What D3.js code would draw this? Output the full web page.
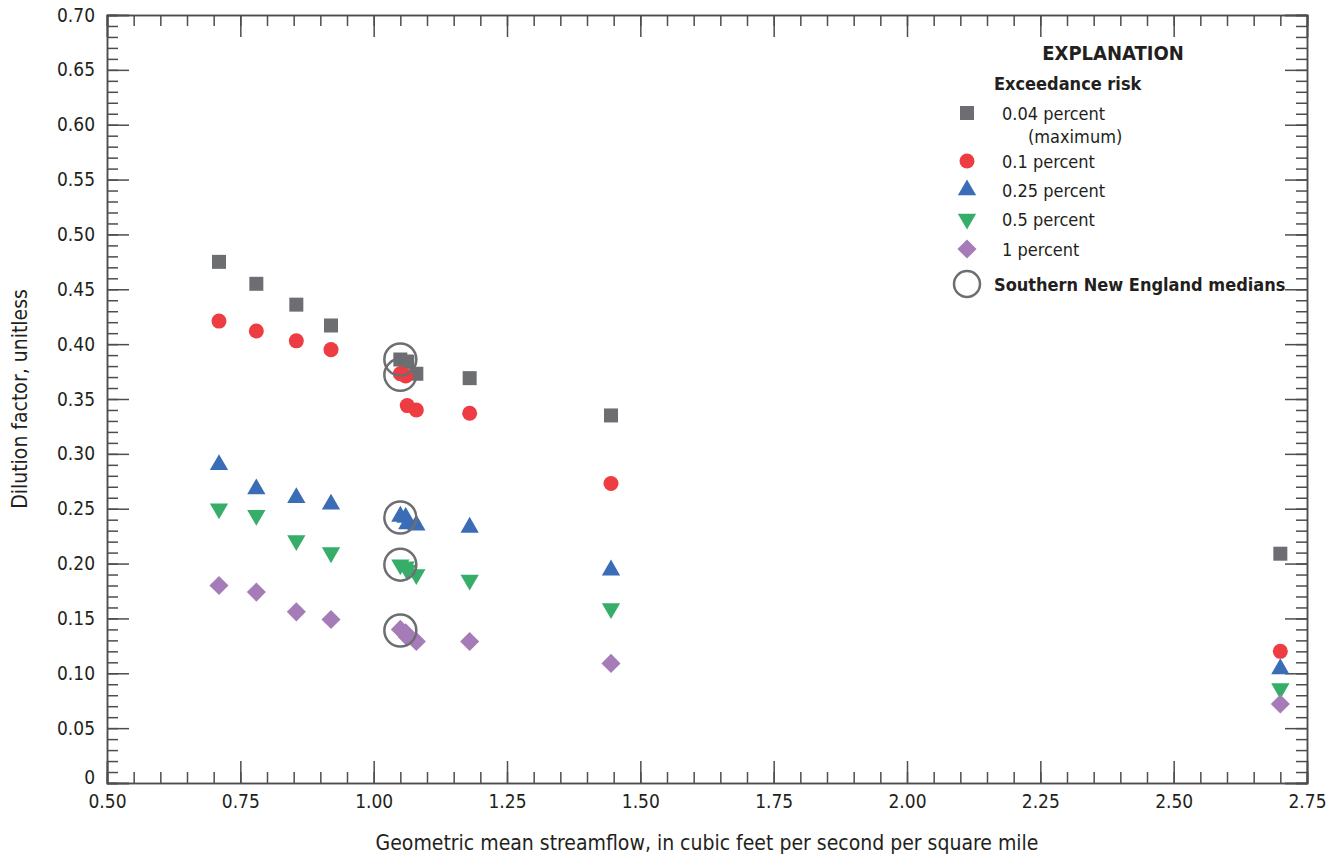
<!DOCTYPE html>
<html>
<head>
<meta charset="utf-8">
<script src="https://cdn.jsdelivr.net/npm/d3@7"></script>
<style>
  body { margin: 0; background: #fff; }
  svg text { font-family: "Liberation Sans Narrow", "Arial Narrow", "DejaVu Sans Condensed", sans-serif; fill: #231f20; }
  .axis path, .axis line { stroke: #4d4d4f; stroke-width: 1.5; }
</style>
</head>
<body>
<div id="chart"></div>
<script>
// Stations (geometric mean streamflow, cfs per sq mi)
var flow = [0.71, 0.78, 0.855, 0.92, 1.05, 1.06, 1.063, 1.08, 1.18, 1.445, 2.70];

// Dilution factor by exceedance risk
var risk004 = [0.475, 0.455, 0.436, 0.417, 0.386, 0.384, 0.384, 0.373, 0.369, 0.335, 0.209];
var risk01  = [0.421, 0.412, 0.403, 0.395, 0.373, 0.371, 0.344, 0.340, 0.337, 0.273, 0.120];
var risk025 = [0.290, 0.268, 0.260, 0.254, 0.243, 0.242, 0.236, 0.235, 0.233, 0.194, 0.104];
var risk05  = [0.250, 0.244, 0.221, 0.210, 0.199, 0.197, 0.194, 0.190, 0.185, 0.159, 0.086];
var risk1   = [0.180, 0.174, 0.156, 0.149, 0.140, 0.137, 0.133, 0.129, 0.129, 0.109, 0.072];

// Southern New England medians
var medianFlow = 1.05;
var medianValues = [0.386, 0.372, 0.242, 0.199, 0.139];

var xTicks = [0.50, 0.75, 1.00, 1.25, 1.50, 1.75, 2.00, 2.25, 2.50, 2.75];
var yTicks = [0, 0.05, 0.10, 0.15, 0.20, 0.25, 0.30, 0.35, 0.40, 0.45, 0.50, 0.55, 0.60, 0.65, 0.70];

var series = [
    { name: "0.04 percent", values: risk004, symbol: d3.symbolSquare, size: 196, rotate: 0, color: "#6d6e71" },
    { name: "0.1 percent", values: risk01, symbol: d3.symbolCircle, size: 177, rotate: 0, color: "#ed3c42" },
    { name: "0.25 percent", values: risk025, symbol: d3.symbolTriangle, size: 145, rotate: 0, color: "#3a6db5" },
    { name: "0.5 percent", values: risk05, symbol: d3.symbolTriangle, size: 145, rotate: 180, color: "#36ae6a" },
    { name: "1 percent", values: risk1, symbol: d3.symbolSquare, size: 182, rotate: 45, color: "#a57cb7" }
];

var width = 1334, height = 860;
var margin = { top: 15, right: 27, bottom: 77, left: 107 };
var w = width - margin.left - margin.right;
var h = height - margin.top - margin.bottom;

var svg = d3.select("#chart").append("svg")
    .attr("width", width)
    .attr("height", height);

var g = svg.append("g")
    .attr("transform", "translate(" + margin.left + "," + margin.top + ")");

var x = d3.scaleLinear().domain([0.5, 2.75]).range([0, w]);
var y = d3.scaleLinear().domain([0, 0.70]).range([h, 0]);

var xMinor = d3.range(0.5, 2.7501, 0.05);
var yMinor = d3.range(0, 0.7001, 0.01);

// Minor ticks (inward) on all four sides
g.append("g").attr("class", "axis")
    .attr("transform", "translate(0," + h + ")")
    .call(d3.axisBottom(x).tickValues(xMinor).tickSize(-11).tickFormat(""));
g.append("g").attr("class", "axis")
    .call(d3.axisTop(x).tickValues(xMinor).tickSize(-11).tickFormat(""));
g.append("g").attr("class", "axis")
    .call(d3.axisLeft(y).tickValues(yMinor).tickSize(-11).tickFormat(""));
g.append("g").attr("class", "axis")
    .attr("transform", "translate(" + w + ",0)")
    .call(d3.axisRight(y).tickValues(yMinor).tickSize(-11).tickFormat(""));

// Major ticks with labels
g.append("g").attr("class", "axis")
    .attr("transform", "translate(0," + h + ")")
    .call(d3.axisBottom(x).tickValues(xTicks).tickSize(-22).tickPadding(12).tickFormat(d3.format(".2f")));
g.append("g").attr("class", "axis")
    .call(d3.axisTop(x).tickValues(xTicks).tickSize(-22).tickFormat(""));
var yAxis = g.append("g").attr("class", "axis")
    .call(d3.axisLeft(y).tickValues(yTicks).tickSize(-22).tickPadding(12)
        .tickFormat(function (d) { return d === 0 ? "0" : d3.format(".2f")(d); }));
g.append("g").attr("class", "axis")
    .attr("transform", "translate(" + w + ",0)")
    .call(d3.axisRight(y).tickValues(yTicks).tickSize(-22).tickFormat(""));

g.selectAll(".axis text").style("font-size", "19px").style("fill", "#231f20");

// "0" label sits a little above the corner
yAxis.selectAll(".tick text").filter(function (d) { return d === 0; })
    .attr("dy", "0.0em");

// Points
series.forEach(function (s) {
    var sym = d3.symbol().type(s.symbol).size(s.size);
    g.selectAll(null)
        .data(s.values)
        .enter()
        .append("path")
        .attr("d", sym)
        .attr("fill", s.color)
        .attr("transform", function (d, i) {
            return "translate(" + x(flow[i]) + "," + y(d) + ") rotate(" + s.rotate + ")";
        });
});

// Median circles
g.selectAll("circle.median")
    .data(medianValues)
    .enter()
    .append("circle")
    .attr("class", "median")
    .attr("cx", x(medianFlow))
    .attr("cy", function (d) { return y(d); })
    .attr("r", 16)
    .attr("fill", "none")
    .attr("stroke", "#6d6e71")
    .attr("stroke-width", 2.5);

// Axis titles
svg.append("text")
    .attr("x", margin.left + w / 2)
    .attr("y", 850)
    .attr("text-anchor", "middle")
    .style("font-size", "21px")
    .text("Geometric mean streamflow, in cubic feet per second per square mile");

svg.append("text")
    .attr("transform", "translate(27," + (margin.top + h / 2) + ") rotate(-90)")
    .attr("text-anchor", "middle")
    .style("font-size", "21px")
    .text("Dilution factor, unitless");

// Legend
var legend = svg.append("g");
legend.append("text")
    .attr("x", 1113).attr("y", 60)
    .attr("text-anchor", "middle")
    .style("font-size", "20px").style("font-weight", "bold")
    .text("EXPLANATION");
legend.append("text")
    .attr("x", 994).attr("y", 90)
    .style("font-size", "18px").style("font-weight", "bold")
    .text("Exceedance risk");

var legendY = [113, 161, 190, 219, 249];
series.forEach(function (s, i) {
    var sym = d3.symbol().type(s.symbol).size(s.size);
    legend.append("path")
        .attr("d", sym)
        .attr("fill", s.color)
        .attr("transform", "translate(967," + legendY[i] + ") rotate(" + s.rotate + ")");
    legend.append("text")
        .attr("x", 1002).attr("y", legendY[i] + 7)
        .style("font-size", "18px")
        .text(s.name);
});
legend.append("text")
    .attr("x", 1028).attr("y", 143)
    .style("font-size", "18px")
    .text("(maximum)");
legend.append("circle")
    .attr("cx", 967).attr("cy", 284).attr("r", 13)
    .attr("fill", "none").attr("stroke", "#6d6e71").attr("stroke-width", 2.5);
legend.append("text")
    .attr("x", 994).attr("y", 291)
    .style("font-size", "18px").style("font-weight", "bold")
    .text("Southern New England medians");
</script>
</body>
</html>
